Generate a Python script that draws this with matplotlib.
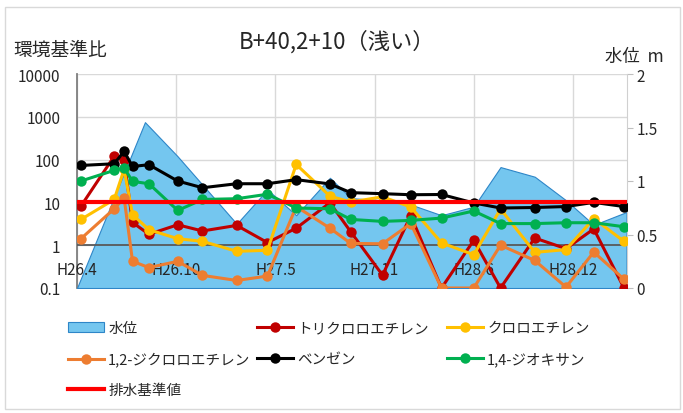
import matplotlib
matplotlib.use("Agg")
import matplotlib.pyplot as plt
from matplotlib.patches import Rectangle, Patch
import pandas as pd

plt.rcParams['font.family'] = ['Noto Sans CJK JP', 'DejaVu Sans']

# ---- sampling dates and concentration ratios (vs. environmental standard) ----
sample_dates = [
    "2014-04-09", "2014-06-15", "2014-07-05", "2014-07-22", "2014-08-24",
    "2014-10-21", "2014-12-10", "2015-02-17", "2015-04-20", "2015-06-17",
    "2015-08-24", "2015-10-05", "2015-12-08", "2016-02-03", "2016-04-05",
    "2016-06-09", "2016-08-02", "2016-10-10", "2016-12-12", "2017-02-06",
    "2017-04-08",
]
trichloroethylene = [8.2, 120, 96, 3.4, 1.8, 3.0, 2.15, 2.9, 1.15, 2.5,
                     9.8, 2.05, 0.2, 4.9, 0.1, 1.3, 0.1, 1.47, 0.83, 2.4, 0.1]
chloroethylene = [4.0, 11.7, 59, 5.2, 2.3, 1.42, 1.23, 0.72, 0.76, 77,
                  14, 10.2, 13.5, 7.8, 1.13, 0.6, 7.0, 0.68, 0.79, 4.2, 1.23]
dichloroethylene_12 = [1.42, 7.1, 12.7, 0.42, 0.30, 0.42, 0.197, 0.15, 0.19, 8.0,
                       2.5, 1.1, 1.08, 3.2, 0.1, 0.1, 1.0, 0.44, 0.105, 0.69, 0.16]
benzene = [73, 80, 156, 69, 76, 31.6, 22, 27.3, 27.3, 34,
           27, 16.9, 16, 15.1, 15.3, 9.7, 7.4, 7.6, 8.0, 10, 8.0]
dioxane_14 = [31.6, 56, 64, 31, 27.3, 6.5, 11.7, 12.2, 15.5, 7.4,
              7.1, 4.0, 3.6, 3.8, 4.3, 6.3, 3.2, 3.2, 3.35, 3.35, 2.7]

# ---- groundwater level (m) ----
level_dates = [
    "2014-04-01", "2014-08-16", "2014-10-21", "2015-02-17", "2015-04-20",
    "2015-06-17", "2015-08-24", "2015-10-05", "2015-12-08", "2016-02-03",
    "2016-04-05", "2016-06-09", "2016-08-02", "2016-10-10", "2016-12-12",
    "2017-02-06", "2017-04-13",
]
water_level = [0.0, 1.55, 1.23, 0.60, 0.92, 0.68, 1.03, 0.84, 0.82, 0.78,
               0.68, 0.76, 1.13, 1.04, 0.82, 0.59, 0.71]

drain_standard = 10.0

tick_labels = ["H26.4", "H26.10", "H27.5", "H27.11", "H28.6", "H28.12"]
left_ticks = [0.1, 1, 10, 100, 1000, 10000]
left_tick_labels = ["0.1", "1", "10", "100", "1000", "10000"]
right_ticks = [0, 0.5, 1, 1.5, 2]
right_tick_labels = ["0", "0.5", "1", "1.5", "2"]

x_start, x_end = "2014-04-01", "2017-04-14"

# ---- figure ----
W, H = 683, 414
fig = plt.figure(figsize=(W / 100, H / 100), dpi=100)
fig.patch.set_facecolor("white")

L, R, B, T = 77 / W, 627 / W, 1 - 289 / H, 1 - 75 / H
ax = fig.add_axes([L, B, R - L, T - B])
axw = ax.twinx()
axc = ax.twinx()
ax.set_zorder(1)
axw.set_zorder(2)
axc.set_zorder(3)
for a in (axw, axc):
    a.patch.set_visible(False)

sd = pd.to_datetime(sample_dates)
ld = pd.to_datetime(level_dates)
tick_dates = pd.date_range(x_start, periods=len(tick_labels), freq="200D")

text_color = "#262626"
grid_color = "#D9D9D9"

# background grid + left axis
ax.set_yscale("log")
ax.set_ylim(0.1, 10000)
ax.set_xlim(pd.Timestamp(x_start), pd.Timestamp(x_end))
ax.set_yticks(left_ticks)
ax.set_yticklabels(left_tick_labels)
ax.minorticks_off()
ax.set_xticks(tick_dates)
ax.grid(True, color=grid_color, lw=1.0)
ax.tick_params(axis="x", length=0, labelbottom=False)
ax.tick_params(axis="y", length=0, pad=12, labelsize=11, colors=text_color)
for s in ("top", "right", "bottom"):
    ax.spines[s].set_visible(False)
ax.spines["left"].set_color("#7F7F7F")
ax.spines["left"].set_linewidth(1.3)

# water level area (right axis)
axw.fill_between(ld, water_level, 0, facecolor="#74C6EF", edgecolor="#2E86C8",
                 linewidth=0.8, label="水位")
axw.set_ylim(0, 2)
axw.set_yticks(right_ticks)
axw.set_yticklabels(right_tick_labels)
axw.tick_params(axis="y", length=4, width=0.8, pad=3, labelsize=11,
                colors=text_color)
axw.tick_params(axis="y", color="#BFBFBF")
for s in ("top", "left", "bottom"):
    axw.spines[s].set_visible(False)
axw.spines["right"].set_color("#D0D0D0")

# concentration series (log scale, same range as left axis)
axc.set_yscale("log")
axc.set_ylim(0.1, 10000)
axc.set_xlim(pd.Timestamp(x_start), pd.Timestamp(x_end))
axc.set_yticks([])
axc.minorticks_off()
for s in axc.spines.values():
    s.set_visible(False)
axc.xaxis.set_visible(True)
axc.set_xticks(tick_dates)
axc.set_xticklabels(tick_labels)
axc.tick_params(axis="x", length=0, pad=-19.5, labelsize=11, colors=text_color)

axc.axhline(1, color="#595959", lw=1.3, zorder=1.5)

style = dict(marker="o", markersize=7.5, linewidth=2.2, markeredgewidth=0)
l_tce, = axc.plot(sd, trichloroethylene, color="#C00000", label="トリクロロエチレン", **style)
l_ce, = axc.plot(sd, chloroethylene, color="#FFC000", label="クロロエチレン", **style)
l_dce, = axc.plot(sd, dichloroethylene_12, color="#ED7D31", label="1,2-ジクロロエチレン", **style)
l_bz, = axc.plot(sd, benzene, color="#000000", label="ベンゼン", **style)
l_dx, = axc.plot(sd, dioxane_14, color="#00B050", label="1,4-ジオキサン", **style)
l_std = axc.axhline(drain_standard, color="#FF0000", lw=3.0, label="排水基準値")

# titles
fig.text(337 / W, 1 - 42 / H, "B+40,2+10（浅い）", ha="center", va="center",
         fontsize=16, color=text_color)
fig.text(13 / W, 1 - 50 / H, "環境基準比", ha="left", va="center",
         fontsize=13.5, color=text_color)
fig.text(605 / W, 1 - 57 / H, "水位  m", ha="left", va="center",
         fontsize=12.5, color=text_color)

# legend, three columns
area_handle = Patch(facecolor="#74C6EF", edgecolor="#2E86C8", linewidth=0.8)
leg_kw = dict(frameon=False, loc="upper left", fontsize=10.5, handlelength=2.5,
              handletextpad=0.25, labelspacing=1.15, borderpad=0, borderaxespad=0,
              labelcolor=text_color)
columns = [
    ([area_handle, l_dce, l_std], ["水位", "1,2-ジクロロエチレン", "排水基準値"], 68),
    ([l_tce, l_bz], ["トリクロロエチレン", "ベンゼン"], 257),
    ([l_ce, l_dx], ["クロロエチレン", "1,4-ジオキサン"], 447),
]
for handles, labels, xpx in columns:
    fig.legend(handles, labels, bbox_to_anchor=(xpx / W, 1 - 322 / H), **leg_kw)

# outer frame
fig.add_artist(Rectangle((5 / W, 4 / H), 675 / W, 402 / H, transform=fig.transFigure,
                         fill=False, edgecolor="#D9D9D9", linewidth=1.0))

fig.savefig("out.png", dpi=100, facecolor="white")
